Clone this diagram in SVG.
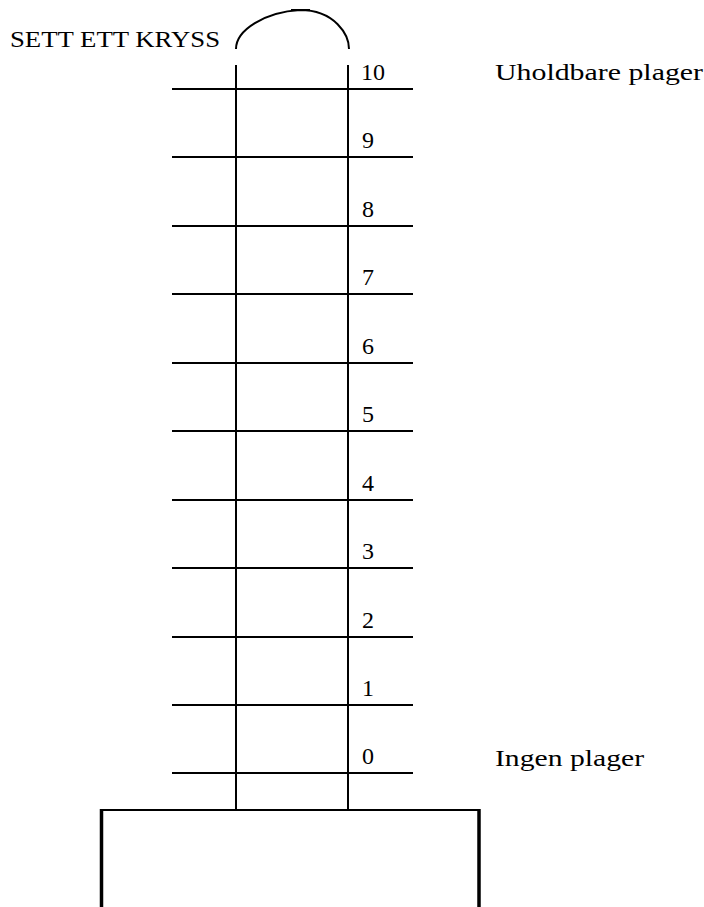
<svg xmlns="http://www.w3.org/2000/svg" width="704" height="907" viewBox="0 0 704 907">
<style>
.t{font-family:"Liberation Serif","DejaVu Serif",serif;font-size:24px;fill:#000}
.l{stroke:#000;stroke-width:2;fill:none}
.b{stroke:#000;stroke-width:3.5;fill:none}
</style>
<rect width="704" height="907" fill="#fff"/>
<g id="connectors">
<path class="l" d="M236 49 C236 30 265 12 300 10 C335 10 349 35 349 49" stroke-width="1.5"/>
<line class="l" x1="291" y1="10" x2="310" y2="10" stroke-width="1.5"/>
</g>
<g id="scale">
<line class="l" x1="236" y1="65" x2="236" y2="809"/>
<line class="l" x1="348" y1="65" x2="348" y2="809"/>
<line class="l" x1="172" y1="89" x2="413" y2="89"/>
<line class="l" x1="172" y1="157" x2="413" y2="157"/>
<line class="l" x1="172" y1="226" x2="413" y2="226"/>
<line class="l" x1="172" y1="294" x2="413" y2="294"/>
<line class="l" x1="172" y1="363" x2="413" y2="363"/>
<line class="l" x1="172" y1="431" x2="413" y2="431"/>
<line class="l" x1="172" y1="500" x2="413" y2="500"/>
<line class="l" x1="172" y1="568" x2="413" y2="568"/>
<line class="l" x1="172" y1="637" x2="413" y2="637"/>
<line class="l" x1="172" y1="705" x2="413" y2="705"/>
<line class="l" x1="172" y1="773" x2="413" y2="773"/>
</g>
<g id="numbers">
<text class="t" x="361" y="80">10</text>
<text class="t" x="362" y="148">9</text>
<text class="t" x="362" y="217">8</text>
<text class="t" x="362" y="285">7</text>
<text class="t" x="362" y="354">6</text>
<text class="t" x="362" y="422">5</text>
<text class="t" x="362" y="491">4</text>
<text class="t" x="362" y="559">3</text>
<text class="t" x="362" y="628">2</text>
<text class="t" x="362" y="696">1</text>
<text class="t" x="362" y="764">0</text>
</g>
<g id="labels">
<text class="t" x="10" y="47" textLength="210" lengthAdjust="spacingAndGlyphs">SETT ETT KRYSS</text>
<text class="t" x="495" y="80" textLength="208" lengthAdjust="spacingAndGlyphs">Uholdbare plager</text>
<text class="t" x="495" y="766" textLength="149" lengthAdjust="spacingAndGlyphs">Ingen plager</text>
</g>
<g id="base">
<line class="l" x1="100" y1="810" x2="480" y2="810"/>
<line class="b" x1="101.5" y1="809" x2="101.5" y2="907"/>
<line class="b" x1="479" y1="809" x2="479" y2="907"/>
</g>
</svg>
